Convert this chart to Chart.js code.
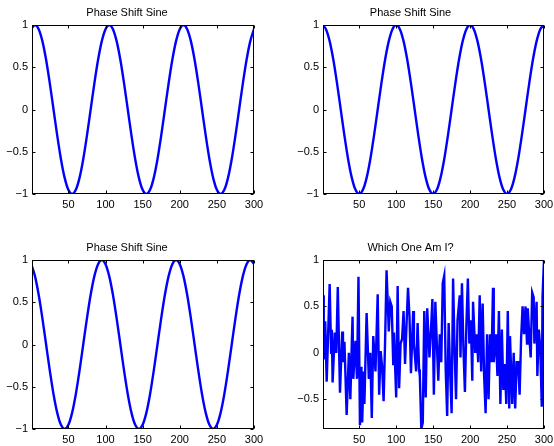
<!DOCTYPE html>
<html>
<head>
<meta charset="utf-8">
<script src="https://cdn.jsdelivr.net/npm/chart.js@4/dist/chart.umd.min.js"></script>
<style>
  body { margin: 0; background: #fff; }
  #wrap { position: relative; width: 554px; height: 446px; overflow: hidden; }
  canvas { position: absolute; }
</style>
</head>
<body>
<div id="wrap">
  <canvas id="c1" width="277" height="226" style="left:0;top:0"></canvas>
  <canvas id="c2" width="277" height="226" style="left:277px;top:0"></canvas>
  <canvas id="c3" width="277" height="220" style="left:0;top:226px"></canvas>
  <canvas id="c4" width="277" height="220" style="left:277px;top:226px"></canvas>
</div>
<script>
// Titles
const titles = ['Phase Shift Sine', 'Phase Shift Sine', 'Phase Shift Sine', 'Which One Am I?'];

// Tick labels
const xTicks = [50, 100, 150, 200, 250, 300];
const sineYTicks = [-1, -0.5, 0, 0.5, 1];
const noiseYTicks = [-0.5, 0, 0.5, 1];

// Sample positions for the sine curves
const sineX = [0, 5, 10, 15, 20, 25, 30, 35, 40, 45, 50, 55, 60, 65, 70, 75, 80, 85, 90, 95,
  100, 105, 110, 115, 120, 125, 130, 135, 140, 145, 150, 155, 160, 165, 170, 175, 180, 185, 190, 195,
  200, 205, 210, 215, 220, 225, 230, 235, 240, 245, 250, 255, 260, 265, 270, 275, 280, 285, 290, 295, 300];

// Top left: peaks near 5, 105, 205
const sineA = [0.951,
  1, 0.951, 0.809, 0.588, 0.309, 0, -0.309, -0.588, -0.809, -0.951, -1, -0.951, -0.809, -0.588, -0.309, 0, 0.309, 0.588, 0.809, 0.951,
  1, 0.951, 0.809, 0.588, 0.309, 0, -0.309, -0.588, -0.809, -0.951, -1, -0.951, -0.809, -0.588, -0.309, 0, 0.309, 0.588, 0.809, 0.951,
  1, 0.951, 0.809, 0.588, 0.309, 0, -0.309, -0.588, -0.809, -0.951, -1, -0.951, -0.809, -0.588, -0.309, 0, 0.309, 0.588, 0.809, 0.951];

// Top right: peaks at 0, 100, 200, 300
const sineB = [
  1, 0.951, 0.809, 0.588, 0.309, 0, -0.309, -0.588, -0.809, -0.951, -1, -0.951, -0.809, -0.588, -0.309, 0, 0.309, 0.588, 0.809, 0.951,
  1, 0.951, 0.809, 0.588, 0.309, 0, -0.309, -0.588, -0.809, -0.951, -1, -0.951, -0.809, -0.588, -0.309, 0, 0.309, 0.588, 0.809, 0.951,
  1, 0.951, 0.809, 0.588, 0.309, 0, -0.309, -0.588, -0.809, -0.951, -1, -0.951, -0.809, -0.588, -0.309, 0, 0.309, 0.588, 0.809, 0.951,
  1];

// Bottom left: peaks near 95, 195, 295
const sineC = [
  0.951, 0.809, 0.588, 0.309, 0, -0.309, -0.588, -0.809, -0.951, -1, -0.951, -0.809, -0.588, -0.309, 0, 0.309, 0.588, 0.809, 0.951, 1,
  0.951, 0.809, 0.588, 0.309, 0, -0.309, -0.588, -0.809, -0.951, -1, -0.951, -0.809, -0.588, -0.309, 0, 0.309, 0.588, 0.809, 0.951, 1,
  0.951, 0.809, 0.588, 0.309, 0, -0.309, -0.588, -0.809, -0.951, -1, -0.951, -0.809, -0.588, -0.309, 0, 0.309, 0.588, 0.809, 0.951, 1,
  0.951];

// Bottom right: the noisy one
const noiseX = [1, 2, 4, 6, 10, 12, 13, 14, 17, 19, 21, 24, 27, 28, 30, 33, 36, 38, 40, 41,
  42, 45, 47, 49, 51, 53, 54, 56, 57, 60, 63, 65, 67, 69, 72, 75, 77, 79, 81, 83,
  85, 87, 90, 92, 94, 96, 97, 100, 102, 104, 106, 108, 110, 112, 114, 116, 118, 120, 123, 124,
  127, 129, 131, 132, 134, 136, 138, 140, 142, 145, 147, 149, 151, 153, 155, 157, 159, 161, 163, 165,
  167, 169, 171, 173, 175, 177, 179, 181, 183, 186, 187, 189, 191, 193, 195, 197, 199, 201, 203, 204,
  207, 209, 211, 213, 215, 217, 219, 221, 223, 225, 227, 229, 231, 232, 235, 237, 239, 241, 243, 245,
  247, 249, 251, 253, 254, 257, 259, 261, 263, 265, 267, 269, 271, 273, 275, 277, 278, 280, 282, 284,
  286, 287, 290, 291, 293, 295, 297, 298, 300];
const noiseY = [0.62, -0.07, 0.34, -0.31, 0.74, 0, 0.25, -0.32, 0.22, 0, 0.71, -0.43, 0.23, -0.1, 0.12, -0.67, 0, -0.5, 0.12, 0.39,
  -0.28, 0.13, -0.28, 0.82, -0.78, -0.15, -0.75, -0.2, -0.55, 0.43, -0.28, 0, -0.7, 0.18, -0.2, 0.63, -0.45, 0.02, -0.15, -0.52,
  0.12, 0.89, 0.23, 0.55, 0.5, -0.12, 0.22, -0.48, 0.72, -0.38, 0.1, 0.15, 0.45, -0.12, 0.3, 0.7, 0.4, -0.22, 0.45, 0.1,
  -0.2, 0.32, -0.18, -0.25, -0.82, -0.75, 0.45, -0.48, 0.48, -0.05, 0.23, 0.58, -0.45, 0.55, 0.1, -0.3, 0.2, -0.1, 0.75, 0.83,
  -0.18, -0.68, 0.32, -0.2, -0.65, 0.8, 0.05, -0.5, 0.35, 0.62, -0.05, 0.75, 0.05, -0.42, 0.3, 0.8, 0.1, 0.35, -0.3, 0.55,
  0, 0.2, -0.1, 0.62, -0.2, 0.53, -0.25, -0.65, 0.2, -0.5, 0.2, -0.1, 0.7, -0.1, 0.2, -0.25, 0.45, -0.55, 0.25, -0.4,
  -0.12, -0.55, 0.45, -0.6, 0.18, -0.55, 0, -0.6, -0.1, -0.1, -0.45, 0.15, 0.5, 0.2, 0.5, 0.1, 0.48, 0.2, -0.05, 0.65,
  0.6, 0.1, 0.55, -0.25, 0.25, 0.05, -0.58, 0.6, 1];

Chart.defaults.font.family = "'Liberation Sans', Arial, Helvetica, sans-serif";
Chart.defaults.font.size = 11;
Chart.defaults.color = '#000';

function fmt(v) {
  return v < 0 ? '\u2212' + Math.abs(v) : String(v);
}

// box round the plot area plus inward tick marks, MATLAB style
const matlabAxes = {
  id: 'matlabAxes',
  afterDatasetsDraw(chart) {
    const { ctx, chartArea: a, scales: { x, y } } = chart;
    const L = Math.round(a.left) + 0.5, R = Math.round(a.right) - 0.5;
    const T = Math.round(a.top) + 0.5, B = Math.round(a.bottom) - 0.5;
    ctx.save();
    ctx.strokeStyle = '#000';
    ctx.lineWidth = 1;
    ctx.strokeRect(L, T, R - L, B - T);
    ctx.beginPath();
    x.ticks.forEach(t => {
      const px = Math.round(x.getPixelForValue(t.value)) + 0.5;
      ctx.moveTo(px, B); ctx.lineTo(px, B - 3);
      ctx.moveTo(px, T); ctx.lineTo(px, T + 3);
    });
    y.ticks.forEach(t => {
      const py = Math.round(y.getPixelForValue(t.value)) + 0.5;
      ctx.moveTo(L, py); ctx.lineTo(L + 3, py);
      ctx.moveTo(R, py); ctx.lineTo(R - 3, py);
    });
    ctx.stroke();
    ctx.restore();
  }
};

function makePanel(id, title, points, yMin, yMax, yTicks, g, smooth) {
  return new Chart(document.getElementById(id), {
    type: 'line',
    data: {
      datasets: [{
        data: points,
        borderColor: '#0000ff',
        borderWidth: 2.4,
        pointRadius: 0,
        cubicInterpolationMode: smooth ? 'monotone' : 'default',
        tension: 0
      }]
    },
    options: {
      responsive: false,
      animation: false,
      devicePixelRatio: 1,
      layout: { padding: { top: g.padTop, right: g.padRight, left: 0, bottom: 0 } },
      plugins: {
        legend: { display: false },
        tooltip: { enabled: false },
        title: {
          display: true,
          text: title,
          color: '#000',
          font: { size: 11, weight: 'normal', lineHeight: '13px' },
          padding: { top: 6, bottom: 6 }
        }
      },
      scales: {
        x: {
          type: 'linear',
          min: 1,
          max: 300,
          grid: { display: false, drawTicks: false },
          border: { display: false },
          ticks: { padding: 4, maxRotation: 0, autoSkip: false, callback: v => fmt(v) },
          afterBuildTicks: s => { s.ticks = xTicks.map(v => ({ value: v })); },
          afterFit: s => { s.height = g.xH; s.paddingLeft = 0; s.paddingRight = 0; }
        },
        y: {
          min: yMin,
          max: yMax,
          grid: { display: false, drawTicks: false },
          border: { display: false },
          ticks: { padding: 4, autoSkip: false, callback: v => fmt(v) },
          afterBuildTicks: s => { s.ticks = yTicks.map(v => ({ value: v })); },
          afterFit: s => { s.width = g.yW; s.paddingTop = 0; s.paddingBottom = 0; }
        }
      }
    },
    plugins: [matlabAxes]
  });
}

const toPts = (xs, ys) => xs.map((x, i) => ({ x: x, y: ys[i] }));

makePanel('c1', titles[0], toPts(sineX, sineA), -1, 1, sineYTicks, { yW: 32, xH: 32, padTop: 0, padRight: 23 }, true);
makePanel('c2', titles[1], toPts(sineX, sineB), -1, 1, sineYTicks, { yW: 46, xH: 32, padTop: 0, padRight: 10 }, true);
makePanel('c3', titles[2], toPts(sineX, sineC), -1, 1, sineYTicks, { yW: 32, xH: 17, padTop: 9, padRight: 23 }, true);
makePanel('c4', titles[3], toPts(noiseX, noiseY), -0.82, 1, noiseYTicks, { yW: 46, xH: 17, padTop: 9, padRight: 10 }, false);
</script>
</body>
</html>
